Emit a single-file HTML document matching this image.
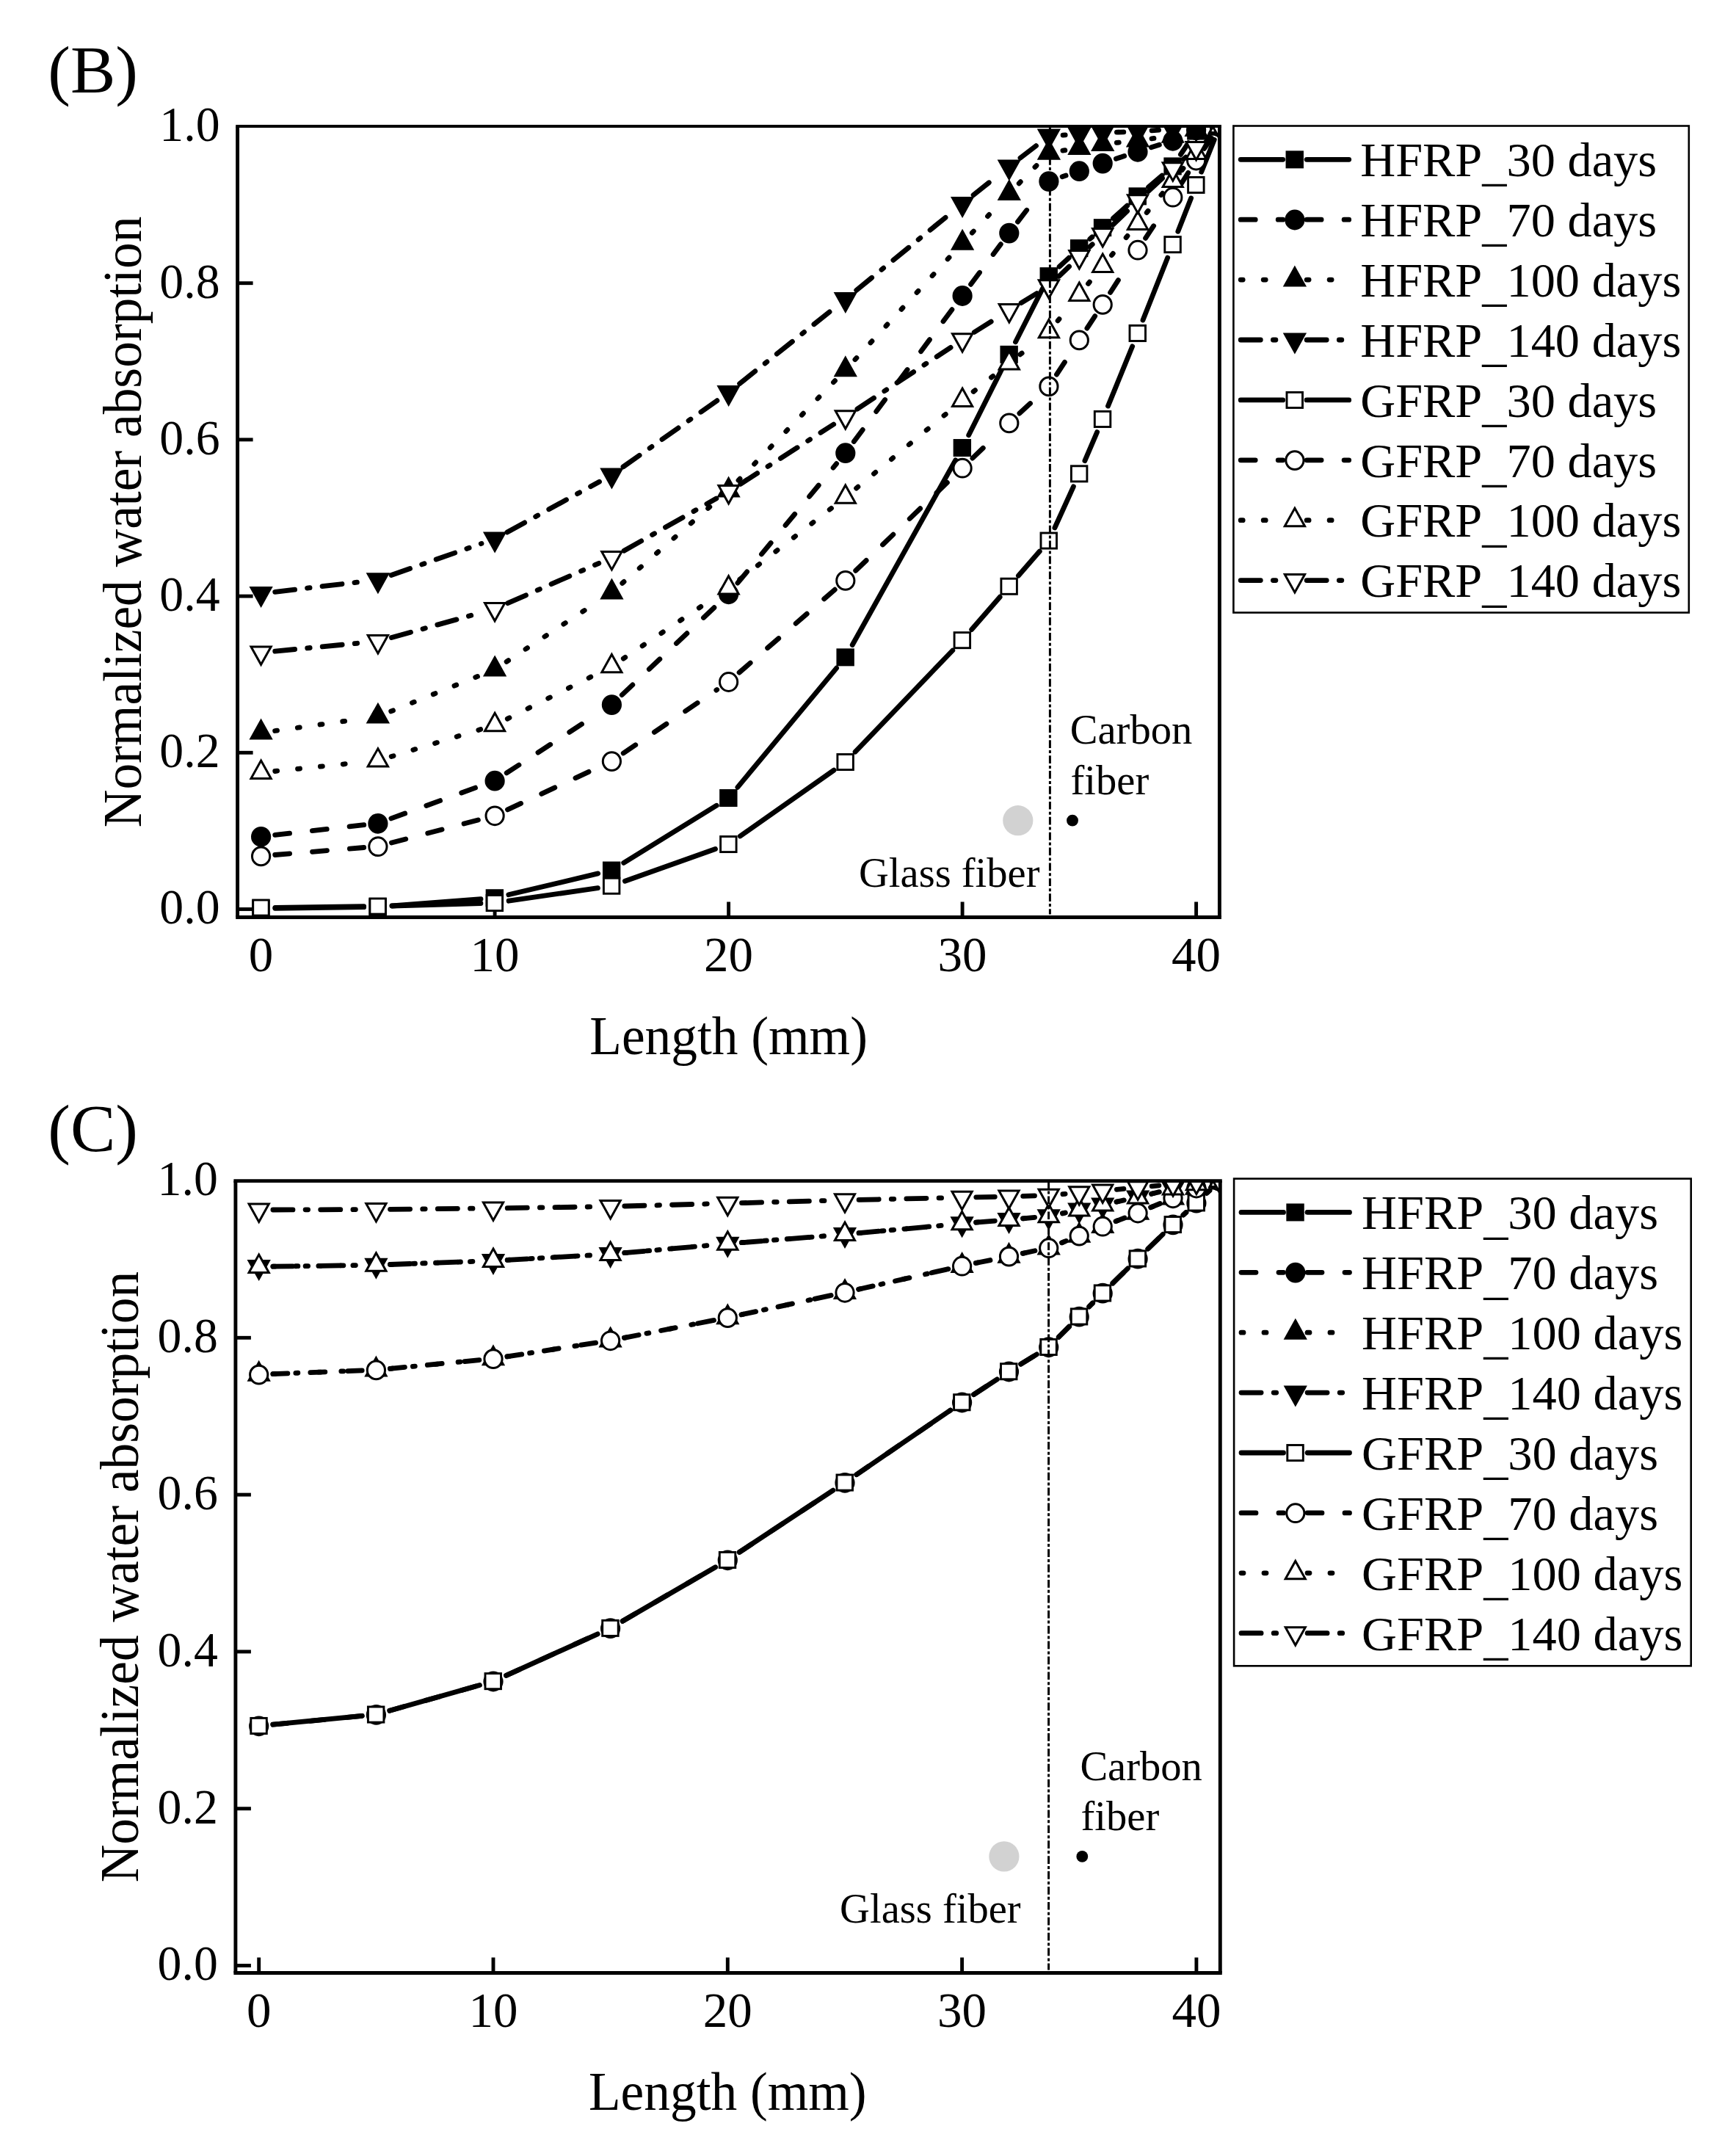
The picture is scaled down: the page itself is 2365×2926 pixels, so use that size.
<!DOCTYPE html>
<html lang="en">
<head>
<meta charset="utf-8">
<title>Normalized water absorption vs length</title>
<style>
html,body{margin:0;padding:0;background:#fff;}
body{width:2365px;height:2926px;overflow:hidden;}
svg{display:block;font-family:'Liberation Serif', 'Times New Roman', serif;}
text{fill:#000;}
</style>
</head>
<body>
<svg width="2365" height="2926" viewBox="0 0 2365 2926">
<rect width="2365" height="2926" fill="#fff"/>
<clipPath id="clipB"><rect x="323.6" y="172.3" width="1337.8" height="1077.2"/></clipPath>
<g stroke="#000" stroke-width="4.9" fill="none">
<line x1="323.6" y1="1238.5" x2="344.6" y2="1238.5"/>
<line x1="323.6" y1="1025.3" x2="344.6" y2="1025.3"/>
<line x1="323.6" y1="812.1" x2="344.6" y2="812.1"/>
<line x1="323.6" y1="598.9" x2="344.6" y2="598.9"/>
<line x1="323.6" y1="385.7" x2="344.6" y2="385.7"/>
<line x1="355.6" y1="1249.5" x2="355.6" y2="1228.5"/>
<line x1="674.1" y1="1249.5" x2="674.1" y2="1228.5"/>
<line x1="992.6" y1="1249.5" x2="992.6" y2="1228.5"/>
<line x1="1311.1" y1="1249.5" x2="1311.1" y2="1228.5"/>
<line x1="1629.6" y1="1249.5" x2="1629.6" y2="1228.5"/>
</g>
<g clip-path="url(#clipB)">
<g stroke="#000" stroke-width="6.8" stroke-linecap="round" fill="none">
<line x1="374.8" y1="1237.3" x2="495.7" y2="1235.7"/>
<line x1="534" y1="1234" x2="655" y2="1224.7"/>
<line x1="692.8" y1="1218.8" x2="814.7" y2="1189.9"/>
<line x1="849.7" y1="1175.4" x2="976.3" y2="1097.2"/>
<line x1="1004.9" y1="1072.3" x2="1139.6" y2="910.1"/>
<line x1="1161.2" y1="878.5" x2="1301.7" y2="626.8"/>
<line x1="1319.7" y1="592.8" x2="1366.2" y2="500.1"/>
<line x1="1383.5" y1="465.8" x2="1420.3" y2="393.3"/>
<line x1="1443.1" y1="363.2" x2="1456.2" y2="351.2"/>
<line x1="1484.8" y1="325.5" x2="1487.8" y2="322.9"/>
<line x1="1516.5" y1="297.4" x2="1535.7" y2="280.1"/>
<line x1="1564.6" y1="254.8" x2="1583.1" y2="239"/>
<line x1="1608.4" y1="210.5" x2="1619" y2="194.6"/>
</g>
<g stroke-linejoin="miter">
<rect x="344.7" y="1227" width="21.5" height="21.1" fill="#000" stroke="#000" stroke-width="2.9"/>
<rect x="503.9" y="1225" width="21.5" height="21.1" fill="#000" stroke="#000" stroke-width="2.9"/>
<rect x="663.1" y="1212.7" width="21.5" height="21.1" fill="#000" stroke="#000" stroke-width="2.9"/>
<rect x="822.4" y="1175" width="21.5" height="21.1" fill="#000" stroke="#000" stroke-width="2.9"/>
<rect x="981.6" y="1076.5" width="21.5" height="21.1" fill="#000" stroke="#000" stroke-width="2.9"/>
<rect x="1140.9" y="884.8" width="21.5" height="21.1" fill="#000" stroke="#000" stroke-width="2.9"/>
<rect x="1300.1" y="599.5" width="21.5" height="21.1" fill="#000" stroke="#000" stroke-width="2.9"/>
<rect x="1363.9" y="472.3" width="21.5" height="21.1" fill="#000" stroke="#000" stroke-width="2.9"/>
<rect x="1418" y="365.6" width="21.5" height="21.1" fill="#000" stroke="#000" stroke-width="2.9"/>
<rect x="1459.4" y="327.6" width="21.5" height="21.1" fill="#000" stroke="#000" stroke-width="2.9"/>
<rect x="1491.3" y="299.6" width="21.5" height="21.1" fill="#000" stroke="#000" stroke-width="2.9"/>
<rect x="1539" y="256.8" width="21.5" height="21.1" fill="#000" stroke="#000" stroke-width="2.9"/>
<rect x="1586.8" y="215.9" width="21.5" height="21.1" fill="#000" stroke="#000" stroke-width="2.9"/>
<rect x="1618.6" y="168" width="21.5" height="21.1" fill="#000" stroke="#000" stroke-width="2.9"/>
<rect x="1650.5" y="161.9" width="21.5" height="21.1" fill="#000" stroke="#000" stroke-width="2.9"/>
</g>
<g stroke="#000" stroke-width="6.8" stroke-linecap="round" fill="none">
<line x1="374.7" y1="1137.3" x2="495.8" y2="1123.7" stroke-dasharray="20 31"/>
<line x1="532.9" y1="1114.9" x2="656.1" y2="1070" stroke-dasharray="20 31"/>
<line x1="690.2" y1="1052.9" x2="817.3" y2="970.3" stroke-dasharray="20 31"/>
<line x1="847.3" y1="946.6" x2="978.7" y2="822.2" stroke-dasharray="20 31"/>
<line x1="1004.9" y1="794.2" x2="1139.6" y2="631.7" stroke-dasharray="20 31"/>
<line x1="1163.3" y1="601.5" x2="1299.6" y2="418.1" stroke-dasharray="20 31"/>
<line x1="1322.6" y1="387.3" x2="1363.3" y2="332.7" stroke-dasharray="20 31"/>
<line x1="1386.5" y1="302.1" x2="1417.3" y2="262" stroke-dasharray="20 31"/>
<line x1="1447.1" y1="240.7" x2="1452.1" y2="239" stroke-dasharray="20 31"/>
<line x1="1520.4" y1="216.3" x2="1531.7" y2="212.5" stroke-dasharray="20 31"/>
<line x1="1568.3" y1="200.7" x2="1579.4" y2="197.3" stroke-dasharray="20 31"/>
</g>
<g stroke-linejoin="miter">
<ellipse cx="355.6" cy="1139.8" rx="12.1" ry="12.4" fill="#000" stroke="#000" stroke-width="3.0"/>
<ellipse cx="514.9" cy="1121.8" rx="12.1" ry="12.4" fill="#000" stroke="#000" stroke-width="3.0"/>
<ellipse cx="674.1" cy="1063.7" rx="12.1" ry="12.4" fill="#000" stroke="#000" stroke-width="3.0"/>
<ellipse cx="833.4" cy="960.1" rx="12.1" ry="12.4" fill="#000" stroke="#000" stroke-width="3.0"/>
<ellipse cx="992.6" cy="809.3" rx="12.1" ry="12.4" fill="#000" stroke="#000" stroke-width="3.0"/>
<ellipse cx="1151.8" cy="617.2" rx="12.1" ry="12.4" fill="#000" stroke="#000" stroke-width="3.0"/>
<ellipse cx="1311.1" cy="403" rx="12.1" ry="12.4" fill="#000" stroke="#000" stroke-width="3.0"/>
<ellipse cx="1374.8" cy="317.6" rx="12.1" ry="12.4" fill="#000" stroke="#000" stroke-width="3.0"/>
<ellipse cx="1428.9" cy="247.1" rx="12.1" ry="12.4" fill="#000" stroke="#000" stroke-width="3.0"/>
<ellipse cx="1470.3" cy="233.2" rx="12.1" ry="12.4" fill="#000" stroke="#000" stroke-width="3.0"/>
<ellipse cx="1502.2" cy="222.6" rx="12.1" ry="12.4" fill="#000" stroke="#000" stroke-width="3.0"/>
<ellipse cx="1550" cy="206.8" rx="12.1" ry="12.4" fill="#000" stroke="#000" stroke-width="3.0"/>
<ellipse cx="1597.8" cy="191.8" rx="12.1" ry="12.4" fill="#000" stroke="#000" stroke-width="3.0"/>
<ellipse cx="1629.6" cy="177.3" rx="12.1" ry="12.4" fill="#000" stroke="#000" stroke-width="3.0"/>
<ellipse cx="1661.5" cy="172.8" rx="12.1" ry="12.4" fill="#000" stroke="#000" stroke-width="3.0"/>
</g>
<g stroke="#000" stroke-width="6.8" stroke-linecap="round" fill="none">
<line x1="374.6" y1="995.5" x2="495.8" y2="978.7" stroke-dasharray="3 28"/>
<line x1="532.7" y1="968.9" x2="656.3" y2="919.1" stroke-dasharray="3 28"/>
<line x1="690.1" y1="901.3" x2="817.3" y2="817.6" stroke-dasharray="3 28"/>
<line x1="847.8" y1="794.4" x2="978.1" y2="680.7" stroke-dasharray="3 28"/>
<line x1="1006" y1="654.3" x2="1138.5" y2="517.6" stroke-dasharray="3 28"/>
<line x1="1164.9" y1="489.7" x2="1298.1" y2="345.3" stroke-dasharray="3 28"/>
<line x1="1324.3" y1="317.2" x2="1361.6" y2="277.5" stroke-dasharray="3 28"/>
<line x1="1388.2" y1="249.8" x2="1415.5" y2="222" stroke-dasharray="3 28"/>
<line x1="1447.9" y1="205.1" x2="1451.4" y2="204.6" stroke-dasharray="3 28"/>
<line x1="1521.3" y1="194.4" x2="1530.9" y2="193.3" stroke-dasharray="3 28"/>
<line x1="1569" y1="188.8" x2="1578.7" y2="187.6" stroke-dasharray="3 28"/>
</g>
<g stroke-linejoin="miter">
<polygon points="355.6,981.7 369.2,1006.1 342,1006.1" fill="#000" stroke="#000" stroke-width="3.0"/>
<polygon points="514.9,959.7 528.5,984.1 501.2,984.1" fill="#000" stroke="#000" stroke-width="3.0"/>
<polygon points="674.1,895.5 687.7,919.9 660.5,919.9" fill="#000" stroke="#000" stroke-width="3.0"/>
<polygon points="833.4,790.6 847,815 819.8,815" fill="#000" stroke="#000" stroke-width="3.0"/>
<polygon points="992.6,651.7 1006.2,676.1 979,676.1" fill="#000" stroke="#000" stroke-width="3.0"/>
<polygon points="1151.8,487.4 1165.4,511.8 1138.2,511.8" fill="#000" stroke="#000" stroke-width="3.0"/>
<polygon points="1311.1,314.8 1324.7,339.2 1297.5,339.2" fill="#000" stroke="#000" stroke-width="3.0"/>
<polygon points="1374.8,247.1 1388.4,271.5 1361.2,271.5" fill="#000" stroke="#000" stroke-width="3.0"/>
<polygon points="1428.9,191.9 1442.5,216.3 1415.3,216.3" fill="#000" stroke="#000" stroke-width="3.0"/>
<polygon points="1470.3,185 1483.9,209.4 1456.8,209.4" fill="#000" stroke="#000" stroke-width="3.0"/>
<polygon points="1502.2,180.2 1515.8,204.6 1488.6,204.6" fill="#000" stroke="#000" stroke-width="3.0"/>
<polygon points="1550,174.7 1563.6,199.1 1536.4,199.1" fill="#000" stroke="#000" stroke-width="3.0"/>
<polygon points="1597.8,168.9 1611.3,193.3 1584.2,193.3" fill="#000" stroke="#000" stroke-width="3.0"/>
<polygon points="1629.6,160.1 1643.2,184.5 1616,184.5" fill="#000" stroke="#000" stroke-width="3.0"/>
<polygon points="1661.5,156.1 1675.1,180.5 1647.9,180.5" fill="#000" stroke="#000" stroke-width="3.0"/>
</g>
<g stroke="#000" stroke-width="6.8" stroke-linecap="round" fill="none">
<line x1="374.7" y1="806.3" x2="495.8" y2="792" stroke-dasharray="27.1 17.1 3.5 17.1"/>
<line x1="533" y1="783.5" x2="656" y2="740.4" stroke-dasharray="27.1 17.1 3.5 17.1"/>
<line x1="690.9" y1="724.9" x2="816.5" y2="656.2" stroke-dasharray="27.1 17.1 3.5 17.1"/>
<line x1="849" y1="635.9" x2="976.9" y2="545.7" stroke-dasharray="27.1 17.1 3.5 17.1"/>
<line x1="1007.6" y1="522.6" x2="1136.8" y2="419.5" stroke-dasharray="27.1 17.1 3.5 17.1"/>
<line x1="1166.7" y1="395.4" x2="1296.2" y2="289.6" stroke-dasharray="27.1 17.1 3.5 17.1"/>
<line x1="1326.1" y1="265.6" x2="1359.8" y2="238.8" stroke-dasharray="27.1 17.1 3.5 17.1"/>
<line x1="1390" y1="215.1" x2="1413.8" y2="196.8" stroke-dasharray="27.1 17.1 3.5 17.1"/>
<line x1="1448.1" y1="184.1" x2="1451.2" y2="183.9" stroke-dasharray="27.1 17.1 3.5 17.1"/>
<line x1="1521.4" y1="180.2" x2="1530.8" y2="179.8" stroke-dasharray="27.1 17.1 3.5 17.1"/>
<line x1="1569.1" y1="177.8" x2="1578.6" y2="177.2" stroke-dasharray="27.1 17.1 3.5 17.1"/>
</g>
<g stroke-linejoin="miter">
<polygon points="355.6,824.9 369.2,800.5 342,800.5" fill="#000" stroke="#000" stroke-width="3.0"/>
<polygon points="514.9,806.2 528.5,781.8 501.2,781.8" fill="#000" stroke="#000" stroke-width="3.0"/>
<polygon points="674.1,750.5 687.7,726.1 660.5,726.1" fill="#000" stroke="#000" stroke-width="3.0"/>
<polygon points="833.4,663.4 847,639 819.8,639" fill="#000" stroke="#000" stroke-width="3.0"/>
<polygon points="992.6,551 1006.2,526.6 979,526.6" fill="#000" stroke="#000" stroke-width="3.0"/>
<polygon points="1151.8,423.9 1165.4,399.5 1138.2,399.5" fill="#000" stroke="#000" stroke-width="3.0"/>
<polygon points="1311.1,293.9 1324.7,269.5 1297.5,269.5" fill="#000" stroke="#000" stroke-width="3.0"/>
<polygon points="1374.8,243.3 1388.4,218.9 1361.2,218.9" fill="#000" stroke="#000" stroke-width="3.0"/>
<polygon points="1428.9,201.4 1442.5,177 1415.3,177" fill="#000" stroke="#000" stroke-width="3.0"/>
<polygon points="1470.3,199.4 1483.9,175 1456.8,175" fill="#000" stroke="#000" stroke-width="3.0"/>
<polygon points="1502.2,197.4 1515.8,173 1488.6,173" fill="#000" stroke="#000" stroke-width="3.0"/>
<polygon points="1550,195.4 1563.6,171 1536.4,171" fill="#000" stroke="#000" stroke-width="3.0"/>
<polygon points="1597.8,192.4 1611.3,168 1584.2,168" fill="#000" stroke="#000" stroke-width="3.0"/>
<polygon points="1629.6,190.4 1643.2,166 1616,166" fill="#000" stroke="#000" stroke-width="3.0"/>
<polygon points="1661.5,188.9 1675.1,164.5 1647.9,164.5" fill="#000" stroke="#000" stroke-width="3.0"/>
</g>
<g stroke="#000" stroke-width="6.8" stroke-linecap="round" fill="none">
<line x1="374.8" y1="1236.3" x2="495.7" y2="1234.7"/>
<line x1="534" y1="1234" x2="654.9" y2="1230.5"/>
<line x1="693.1" y1="1227.2" x2="814.4" y2="1209.6"/>
<line x1="851.4" y1="1200.3" x2="974.5" y2="1156.5"/>
<line x1="1008.3" y1="1139" x2="1136.1" y2="1049.1"/>
<line x1="1165.1" y1="1024.2" x2="1297.8" y2="886"/>
<line x1="1323.7" y1="857.6" x2="1362.2" y2="813.2"/>
<line x1="1387.4" y1="784.2" x2="1416.3" y2="751"/>
<line x1="1436.9" y1="719" x2="1462.4" y2="662.8"/>
<line x1="1477.9" y1="627.6" x2="1494.6" y2="588.6"/>
<line x1="1509.5" y1="553.1" x2="1542.7" y2="471.8"/>
<line x1="1557" y1="436.1" x2="1590.7" y2="351.1"/>
<line x1="1604.8" y1="315.3" x2="1622.6" y2="269.9"/>
<line x1="1636.7" y1="234.2" x2="1654.3" y2="190.3"/>
</g>
<g stroke-linejoin="miter">
<rect x="344.7" y="1226" width="21.5" height="21.1" fill="#fff" stroke="#000" stroke-width="2.9"/>
<rect x="503.9" y="1224" width="21.5" height="21.1" fill="#fff" stroke="#000" stroke-width="2.9"/>
<rect x="663.1" y="1219.5" width="21.5" height="21.1" fill="#fff" stroke="#000" stroke-width="2.9"/>
<rect x="822.4" y="1196.2" width="21.5" height="21.1" fill="#fff" stroke="#000" stroke-width="2.9"/>
<rect x="981.6" y="1139.5" width="21.5" height="21.1" fill="#fff" stroke="#000" stroke-width="2.9"/>
<rect x="1140.9" y="1027.5" width="21.5" height="21.1" fill="#fff" stroke="#000" stroke-width="2.9"/>
<rect x="1300.1" y="861.6" width="21.5" height="21.1" fill="#fff" stroke="#000" stroke-width="2.9"/>
<rect x="1363.9" y="788.2" width="21.5" height="21.1" fill="#fff" stroke="#000" stroke-width="2.9"/>
<rect x="1418" y="726" width="21.5" height="21.1" fill="#fff" stroke="#000" stroke-width="2.9"/>
<rect x="1459.4" y="634.8" width="21.5" height="21.1" fill="#fff" stroke="#000" stroke-width="2.9"/>
<rect x="1491.3" y="560.4" width="21.5" height="21.1" fill="#fff" stroke="#000" stroke-width="2.9"/>
<rect x="1539" y="443.4" width="21.5" height="21.1" fill="#fff" stroke="#000" stroke-width="2.9"/>
<rect x="1586.8" y="322.6" width="21.5" height="21.1" fill="#fff" stroke="#000" stroke-width="2.9"/>
<rect x="1618.6" y="241.4" width="21.5" height="21.1" fill="#fff" stroke="#000" stroke-width="2.9"/>
<rect x="1650.5" y="161.9" width="21.5" height="21.1" fill="#fff" stroke="#000" stroke-width="2.9"/>
</g>
<g stroke="#000" stroke-width="6.8" stroke-linecap="round" fill="none">
<line x1="374.7" y1="1164.5" x2="495.7" y2="1154.5" stroke-dasharray="20 31"/>
<line x1="533.4" y1="1148" x2="655.5" y2="1115.9" stroke-dasharray="20 31"/>
<line x1="691.5" y1="1102.9" x2="815.9" y2="1044.9" stroke-dasharray="20 31"/>
<line x1="849.2" y1="1026" x2="976.7" y2="939.5" stroke-dasharray="20 31"/>
<line x1="1007.1" y1="916.1" x2="1137.3" y2="803.2" stroke-dasharray="20 31"/>
<line x1="1165.7" y1="777.3" x2="1297.3" y2="650.7" stroke-dasharray="20 31"/>
<line x1="1324.9" y1="624.1" x2="1361" y2="589.4" stroke-dasharray="20 31"/>
<line x1="1388.9" y1="563.1" x2="1414.8" y2="539.1" stroke-dasharray="20 31"/>
<line x1="1439.5" y1="510.1" x2="1459.8" y2="479.1" stroke-dasharray="20 31"/>
<line x1="1480.9" y1="447.1" x2="1491.7" y2="430.6" stroke-dasharray="20 31"/>
<line x1="1512.6" y1="398.5" x2="1539.6" y2="356.5" stroke-dasharray="20 31"/>
<line x1="1560.6" y1="324.4" x2="1587.1" y2="284.4" stroke-dasharray="20 31"/>
<line x1="1608" y1="252.2" x2="1619.3" y2="234.4" stroke-dasharray="20 31"/>
<line x1="1640.6" y1="202.4" x2="1650.5" y2="188.3" stroke-dasharray="20 31"/>
</g>
<g stroke-linejoin="miter">
<ellipse cx="355.6" cy="1166.4" rx="12.1" ry="12.4" fill="#fff" stroke="#000" stroke-width="3.0"/>
<ellipse cx="514.9" cy="1153.2" rx="12.1" ry="12.4" fill="#fff" stroke="#000" stroke-width="3.0"/>
<ellipse cx="674.1" cy="1111.3" rx="12.1" ry="12.4" fill="#fff" stroke="#000" stroke-width="3.0"/>
<ellipse cx="833.4" cy="1037.1" rx="12.1" ry="12.4" fill="#fff" stroke="#000" stroke-width="3.0"/>
<ellipse cx="992.6" cy="929" rx="12.1" ry="12.4" fill="#fff" stroke="#000" stroke-width="3.0"/>
<ellipse cx="1151.8" cy="790.9" rx="12.1" ry="12.4" fill="#fff" stroke="#000" stroke-width="3.0"/>
<ellipse cx="1311.1" cy="637.7" rx="12.1" ry="12.4" fill="#fff" stroke="#000" stroke-width="3.0"/>
<ellipse cx="1374.8" cy="576.4" rx="12.1" ry="12.4" fill="#fff" stroke="#000" stroke-width="3.0"/>
<ellipse cx="1428.9" cy="526.4" rx="12.1" ry="12.4" fill="#fff" stroke="#000" stroke-width="3.0"/>
<ellipse cx="1470.3" cy="463.4" rx="12.1" ry="12.4" fill="#fff" stroke="#000" stroke-width="3.0"/>
<ellipse cx="1502.2" cy="414.9" rx="12.1" ry="12.4" fill="#fff" stroke="#000" stroke-width="3.0"/>
<ellipse cx="1550" cy="340.7" rx="12.1" ry="12.4" fill="#fff" stroke="#000" stroke-width="3.0"/>
<ellipse cx="1597.8" cy="268.7" rx="12.1" ry="12.4" fill="#fff" stroke="#000" stroke-width="3.0"/>
<ellipse cx="1629.6" cy="218.5" rx="12.1" ry="12.4" fill="#fff" stroke="#000" stroke-width="3.0"/>
<ellipse cx="1661.5" cy="172.8" rx="12.1" ry="12.4" fill="#fff" stroke="#000" stroke-width="3.0"/>
</g>
<g stroke="#000" stroke-width="6.8" stroke-linecap="round" fill="none">
<line x1="374.7" y1="1050.5" x2="495.8" y2="1038.1" stroke-dasharray="3 28"/>
<line x1="533.2" y1="1030.5" x2="655.7" y2="993.3" stroke-dasharray="3 28"/>
<line x1="691.3" y1="979.1" x2="816.2" y2="916.4" stroke-dasharray="3 28"/>
<line x1="849.3" y1="897.1" x2="976.6" y2="811.8" stroke-dasharray="3 28"/>
<line x1="1007.8" y1="789.3" x2="1136.7" y2="689.1" stroke-dasharray="3 28"/>
<line x1="1166.6" y1="665.1" x2="1296.3" y2="557.6" stroke-dasharray="3 28"/>
<line x1="1326.1" y1="533.5" x2="1359.8" y2="506.8" stroke-dasharray="3 28"/>
<line x1="1389.8" y1="482.9" x2="1413.9" y2="463.7" stroke-dasharray="3 28"/>
<line x1="1441.1" y1="436.9" x2="1458.1" y2="416.2" stroke-dasharray="3 28"/>
<line x1="1482.5" y1="386.5" x2="1490" y2="377.4" stroke-dasharray="3 28"/>
<line x1="1514.4" y1="347.7" x2="1537.8" y2="319.2" stroke-dasharray="3 28"/>
<line x1="1562.2" y1="289.6" x2="1585.5" y2="261.2" stroke-dasharray="3 28"/>
<line x1="1610.1" y1="231.7" x2="1617.2" y2="223.2" stroke-dasharray="3 28"/>
<line x1="1642.3" y1="194.1" x2="1648.7" y2="186.9" stroke-dasharray="3 28"/>
</g>
<g stroke-linejoin="miter">
<polygon points="355.6,1036.1 369.2,1060.5 342,1060.5" fill="#fff" stroke="#000" stroke-width="3.0"/>
<polygon points="514.9,1019.7 528.5,1044.1 501.2,1044.1" fill="#fff" stroke="#000" stroke-width="3.0"/>
<polygon points="674.1,971.3 687.7,995.7 660.5,995.7" fill="#fff" stroke="#000" stroke-width="3.0"/>
<polygon points="833.4,891.4 847,915.8 819.8,915.8" fill="#fff" stroke="#000" stroke-width="3.0"/>
<polygon points="992.6,784.7 1006.2,809.1 979,809.1" fill="#fff" stroke="#000" stroke-width="3.0"/>
<polygon points="1151.8,660.9 1165.4,685.3 1138.2,685.3" fill="#fff" stroke="#000" stroke-width="3.0"/>
<polygon points="1311.1,529 1324.7,553.4 1297.5,553.4" fill="#fff" stroke="#000" stroke-width="3.0"/>
<polygon points="1374.8,478.5 1388.4,502.9 1361.2,502.9" fill="#fff" stroke="#000" stroke-width="3.0"/>
<polygon points="1428.9,435.3 1442.5,459.7 1415.3,459.7" fill="#fff" stroke="#000" stroke-width="3.0"/>
<polygon points="1470.3,385 1483.9,409.4 1456.8,409.4" fill="#fff" stroke="#000" stroke-width="3.0"/>
<polygon points="1502.2,346.1 1515.8,370.5 1488.6,370.5" fill="#fff" stroke="#000" stroke-width="3.0"/>
<polygon points="1550,288 1563.6,312.4 1536.4,312.4" fill="#fff" stroke="#000" stroke-width="3.0"/>
<polygon points="1597.8,230 1611.3,254.4 1584.2,254.4" fill="#fff" stroke="#000" stroke-width="3.0"/>
<polygon points="1629.6,192.1 1643.2,216.5 1616,216.5" fill="#fff" stroke="#000" stroke-width="3.0"/>
<polygon points="1661.5,156.1 1675.1,180.5 1647.9,180.5" fill="#fff" stroke="#000" stroke-width="3.0"/>
</g>
<g stroke="#000" stroke-width="6.8" stroke-linecap="round" fill="none">
<line x1="374.7" y1="887.1" x2="495.7" y2="875.4" stroke-dasharray="27.1 17.1 3.5 17.1"/>
<line x1="533.4" y1="868.5" x2="655.6" y2="834.5" stroke-dasharray="27.1 17.1 3.5 17.1"/>
<line x1="691.7" y1="821.7" x2="815.8" y2="767.3" stroke-dasharray="27.1 17.1 3.5 17.1"/>
<line x1="850.1" y1="750.2" x2="975.9" y2="679" stroke-dasharray="27.1 17.1 3.5 17.1"/>
<line x1="1008.8" y1="659.3" x2="1135.7" y2="578" stroke-dasharray="27.1 17.1 3.5 17.1"/>
<line x1="1167.9" y1="557.1" x2="1295.1" y2="473.3" stroke-dasharray="27.1 17.1 3.5 17.1"/>
<line x1="1327.3" y1="452.5" x2="1358.6" y2="432.7" stroke-dasharray="27.1 17.1 3.5 17.1"/>
<line x1="1391.2" y1="412.6" x2="1412.5" y2="399.6" stroke-dasharray="27.1 17.1 3.5 17.1"/>
<line x1="1442.7" y1="376.3" x2="1456.6" y2="363" stroke-dasharray="27.1 17.1 3.5 17.1"/>
<line x1="1484.3" y1="336.4" x2="1488.2" y2="332.8" stroke-dasharray="27.1 17.1 3.5 17.1"/>
<line x1="1516.1" y1="306.3" x2="1536.1" y2="287.1" stroke-dasharray="27.1 17.1 3.5 17.1"/>
<line x1="1564.1" y1="260.8" x2="1583.6" y2="242.8" stroke-dasharray="27.1 17.1 3.5 17.1"/>
<line x1="1612.1" y1="217" x2="1615.3" y2="214.2" stroke-dasharray="27.1 17.1 3.5 17.1"/>
<line x1="1643.8" y1="188.5" x2="1647.2" y2="185.4" stroke-dasharray="27.1 17.1 3.5 17.1"/>
</g>
<g stroke-linejoin="miter">
<polygon points="355.6,905.3 369.2,880.9 342,880.9" fill="#fff" stroke="#000" stroke-width="3.0"/>
<polygon points="514.9,890 528.5,865.6 501.2,865.6" fill="#fff" stroke="#000" stroke-width="3.0"/>
<polygon points="674.1,845.8 687.7,821.4 660.5,821.4" fill="#fff" stroke="#000" stroke-width="3.0"/>
<polygon points="833.4,776 847,751.6 819.8,751.6" fill="#fff" stroke="#000" stroke-width="3.0"/>
<polygon points="992.6,686 1006.2,661.6 979,661.6" fill="#fff" stroke="#000" stroke-width="3.0"/>
<polygon points="1151.8,584.1 1165.4,559.7 1138.2,559.7" fill="#fff" stroke="#000" stroke-width="3.0"/>
<polygon points="1311.1,479.1 1324.7,454.7 1297.5,454.7" fill="#fff" stroke="#000" stroke-width="3.0"/>
<polygon points="1374.8,438.9 1388.4,414.5 1361.2,414.5" fill="#fff" stroke="#000" stroke-width="3.0"/>
<polygon points="1428.9,406.1 1442.5,381.7 1415.3,381.7" fill="#fff" stroke="#000" stroke-width="3.0"/>
<polygon points="1470.3,366 1483.9,341.6 1456.8,341.6" fill="#fff" stroke="#000" stroke-width="3.0"/>
<polygon points="1502.2,336 1515.8,311.6 1488.6,311.6" fill="#fff" stroke="#000" stroke-width="3.0"/>
<polygon points="1550,290.2 1563.6,265.8 1536.4,265.8" fill="#fff" stroke="#000" stroke-width="3.0"/>
<polygon points="1597.8,246.2 1611.3,221.8 1584.2,221.8" fill="#fff" stroke="#000" stroke-width="3.0"/>
<polygon points="1629.6,217.8 1643.2,193.4 1616,193.4" fill="#fff" stroke="#000" stroke-width="3.0"/>
<polygon points="1661.5,188.9 1675.1,164.5 1647.9,164.5" fill="#fff" stroke="#000" stroke-width="3.0"/>
</g>
<line x1="1430.4" y1="172.3" x2="1430.4" y2="1245.5" stroke="#000" stroke-width="3" stroke-dasharray="10.7 3.1 4 3.1" stroke-dashoffset="0"/>
</g>
<circle cx="1386.8" cy="1117.7" r="20.6" fill="#d2d2d2"/>
<circle cx="1461" cy="1117.7" r="7.9" fill="#000"/>
<g stroke="#000" fill="none" stroke-linecap="butt">
<line x1="321.2" y1="171.9" x2="1663.9" y2="171.9" stroke-width="4.0"/>
<line x1="321.2" y1="1249.5" x2="1663.9" y2="1249.5" stroke-width="4.9"/>
<line x1="323.6" y1="172.3" x2="323.6" y2="1249.5" stroke-width="4.9"/>
<line x1="1661.4" y1="172.3" x2="1661.4" y2="1249.5" stroke-width="4.9"/>
</g>
<text transform="translate(299.6 1258.3) scale(0.9750 1)" font-size="67.5" text-anchor="end">0.0</text>
<text transform="translate(299.6 1045.1) scale(0.9750 1)" font-size="67.5" text-anchor="end">0.2</text>
<text transform="translate(299.6 831.9) scale(0.9750 1)" font-size="67.5" text-anchor="end">0.4</text>
<text transform="translate(299.6 618.7) scale(0.9750 1)" font-size="67.5" text-anchor="end">0.6</text>
<text transform="translate(299.6 405.5) scale(0.9750 1)" font-size="67.5" text-anchor="end">0.8</text>
<text transform="translate(299.6 192.3) scale(0.9750 1)" font-size="67.5" text-anchor="end">1.0</text>
<text transform="translate(355.6 1323.3)" font-size="67" text-anchor="middle">0</text>
<text transform="translate(674.1 1323.3)" font-size="67" text-anchor="middle">10</text>
<text transform="translate(992.6 1323.3)" font-size="67" text-anchor="middle">20</text>
<text transform="translate(1311.1 1323.3)" font-size="67" text-anchor="middle">30</text>
<text transform="translate(1629.6 1323.3)" font-size="67" text-anchor="middle">40</text>
<text transform="translate(992.6 1435.8) scale(0.9780 1)" font-size="73" text-anchor="middle">Length (mm)</text>
<text transform="translate(192 710.9) rotate(-90) scale(0.9780 1)" font-size="73" text-anchor="middle">Normalized water absorption</text>
<text transform="translate(65.3 125.5)" font-size="92">(B)</text>
<text transform="translate(1457.8 1012.9) scale(1.0100 1)" font-size="56">Carbon</text>
<text transform="translate(1458.5 1082.3) scale(1.0100 1)" font-size="56">fiber</text>
<text transform="translate(1170 1208.1) scale(1.0100 1)" font-size="56">Glass fiber</text>
<rect x="1680.4" y="171.5" width="620.4" height="663" fill="#fff" stroke="#000" stroke-width="2.6"/>
<g stroke="#000" stroke-width="6.8" stroke-linecap="round" fill="none">
<line x1="1690.2" y1="217.3" x2="1747.7" y2="217.3"/>
<line x1="1780.1" y1="217.3" x2="1837.7" y2="217.3"/>
</g>
<rect x="1753" y="206.8" width="21.5" height="21.1" fill="#000" stroke="#000" stroke-width="2.9"/>
<text transform="translate(1853.2 240) scale(1.0060 1)" font-size="66">HFRP<tspan dy="6.2">_</tspan><tspan dy="-6.2">30 days</tspan></text>
<g stroke="#000" stroke-width="6.8" stroke-linecap="round" fill="none">
<line x1="1690.2" y1="299.2" x2="1747.7" y2="299.2" stroke-dasharray="20 31"/>
<line x1="1780.1" y1="299.2" x2="1837.7" y2="299.2" stroke-dasharray="20 31"/>
</g>
<ellipse cx="1763.9" cy="299.5" rx="12.1" ry="12.4" fill="#000" stroke="#000" stroke-width="3.0"/>
<text transform="translate(1853.2 321.9) scale(1.0060 1)" font-size="66">HFRP<tspan dy="6.2">_</tspan><tspan dy="-6.2">70 days</tspan></text>
<g stroke="#000" stroke-width="6.8" stroke-linecap="round" fill="none">
<line x1="1690.2" y1="381.1" x2="1747.7" y2="381.1" stroke-dasharray="3 28"/>
<line x1="1780.1" y1="381.1" x2="1837.7" y2="381.1" stroke-dasharray="3 28"/>
</g>
<polygon points="1763.9,364.7 1777.5,389.1 1750.3,389.1" fill="#000" stroke="#000" stroke-width="3.0"/>
<text transform="translate(1853.2 403.8) scale(1.0060 1)" font-size="66">HFRP<tspan dy="6.2">_</tspan><tspan dy="-6.2">100 days</tspan></text>
<g stroke="#000" stroke-width="6.8" stroke-linecap="round" fill="none">
<line x1="1690.2" y1="463" x2="1747.7" y2="463" stroke-dasharray="27.1 17.1 3.5 17.1"/>
<line x1="1780.1" y1="463" x2="1837.7" y2="463" stroke-dasharray="27.1 17.1 3.5 17.1"/>
</g>
<polygon points="1763.9,479.4 1777.5,455 1750.3,455" fill="#000" stroke="#000" stroke-width="3.0"/>
<text transform="translate(1853.2 485.7) scale(1.0060 1)" font-size="66">HFRP<tspan dy="6.2">_</tspan><tspan dy="-6.2">140 days</tspan></text>
<g stroke="#000" stroke-width="6.8" stroke-linecap="round" fill="none">
<line x1="1690.2" y1="544.9" x2="1747.7" y2="544.9"/>
<line x1="1780.1" y1="544.9" x2="1837.7" y2="544.9"/>
</g>
<rect x="1753" y="534.4" width="21.5" height="21.1" fill="#fff" stroke="#000" stroke-width="2.9"/>
<text transform="translate(1853.2 567.6) scale(1.0060 1)" font-size="66">GFRP<tspan dy="6.2">_</tspan><tspan dy="-6.2">30 days</tspan></text>
<g stroke="#000" stroke-width="6.8" stroke-linecap="round" fill="none">
<line x1="1690.2" y1="626.8" x2="1747.7" y2="626.8" stroke-dasharray="20 31"/>
<line x1="1780.1" y1="626.8" x2="1837.7" y2="626.8" stroke-dasharray="20 31"/>
</g>
<ellipse cx="1763.9" cy="627.1" rx="12.1" ry="12.4" fill="#fff" stroke="#000" stroke-width="3.0"/>
<text transform="translate(1853.2 649.5) scale(1.0060 1)" font-size="66">GFRP<tspan dy="6.2">_</tspan><tspan dy="-6.2">70 days</tspan></text>
<g stroke="#000" stroke-width="6.8" stroke-linecap="round" fill="none">
<line x1="1690.2" y1="708.7" x2="1747.7" y2="708.7" stroke-dasharray="3 28"/>
<line x1="1780.1" y1="708.7" x2="1837.7" y2="708.7" stroke-dasharray="3 28"/>
</g>
<polygon points="1763.9,692.3 1777.5,716.7 1750.3,716.7" fill="#fff" stroke="#000" stroke-width="3.0"/>
<text transform="translate(1853.2 731.4) scale(1.0060 1)" font-size="66">GFRP<tspan dy="6.2">_</tspan><tspan dy="-6.2">100 days</tspan></text>
<g stroke="#000" stroke-width="6.8" stroke-linecap="round" fill="none">
<line x1="1690.2" y1="790.6" x2="1747.7" y2="790.6" stroke-dasharray="27.1 17.1 3.5 17.1"/>
<line x1="1780.1" y1="790.6" x2="1837.7" y2="790.6" stroke-dasharray="27.1 17.1 3.5 17.1"/>
</g>
<polygon points="1763.9,807 1777.5,782.6 1750.3,782.6" fill="#fff" stroke="#000" stroke-width="3.0"/>
<text transform="translate(1853.2 813.3) scale(1.0060 1)" font-size="66">GFRP<tspan dy="6.2">_</tspan><tspan dy="-6.2">140 days</tspan></text>
<clipPath id="clipC"><rect x="320.9" y="1608.6" width="1341.4" height="1078.9"/></clipPath>
<g stroke="#000" stroke-width="4.9" fill="none">
<line x1="320.9" y1="2677.5" x2="341.9" y2="2677.5"/>
<line x1="320.9" y1="2463.7" x2="341.9" y2="2463.7"/>
<line x1="320.9" y1="2249.9" x2="341.9" y2="2249.9"/>
<line x1="320.9" y1="2036.1" x2="341.9" y2="2036.1"/>
<line x1="320.9" y1="1822.3" x2="341.9" y2="1822.3"/>
<line x1="352.7" y1="2687.5" x2="352.7" y2="2666.5"/>
<line x1="672" y1="2687.5" x2="672" y2="2666.5"/>
<line x1="991.3" y1="2687.5" x2="991.3" y2="2666.5"/>
<line x1="1310.6" y1="2687.5" x2="1310.6" y2="2666.5"/>
<line x1="1629.9" y1="2687.5" x2="1629.9" y2="2666.5"/>
</g>
<g clip-path="url(#clipC)">
<g stroke="#000" stroke-width="6.8" stroke-linecap="round" fill="none">
<line x1="371.8" y1="2349.2" x2="493.2" y2="2337.4" stroke-dasharray="20 31"/>
<line x1="530.8" y1="2330.3" x2="653.5" y2="2295.5" stroke-dasharray="20 31"/>
<line x1="689.5" y1="2282.3" x2="814.2" y2="2225.8" stroke-dasharray="20 31"/>
<line x1="848.2" y1="2208.2" x2="974.7" y2="2134.7" stroke-dasharray="20 31"/>
<line x1="1007.3" y1="2114.4" x2="1134.9" y2="2030.1" stroke-dasharray="20 31"/>
<line x1="1166.8" y1="2008.7" x2="1294.8" y2="1921" stroke-dasharray="20 31"/>
<line x1="1326.6" y1="1899.6" x2="1358.4" y2="1878.8" stroke-dasharray="20 31"/>
<line x1="1390.8" y1="1858.2" x2="1412.4" y2="1844.9" stroke-dasharray="20 31"/>
<line x1="1442.3" y1="1821.3" x2="1456.7" y2="1807" stroke-dasharray="20 31"/>
<line x1="1483.8" y1="1779.8" x2="1488.6" y2="1775" stroke-dasharray="20 31"/>
<line x1="1515.9" y1="1748" x2="1536.4" y2="1727.8" stroke-dasharray="20 31"/>
<line x1="1563.9" y1="1701.1" x2="1584.2" y2="1681.4" stroke-dasharray="20 31"/>
<line x1="1612" y1="1655" x2="1615.8" y2="1651.5" stroke-dasharray="20 31"/>
<line x1="1643.9" y1="1625.3" x2="1647.8" y2="1621.7" stroke-dasharray="20 31"/>
</g>
<g stroke-linejoin="miter">
<ellipse cx="352.7" cy="2351.3" rx="12.1" ry="12.4" fill="#000" stroke="#000" stroke-width="3.0"/>
<ellipse cx="512.4" cy="2335.9" rx="12.1" ry="12.4" fill="#000" stroke="#000" stroke-width="3.0"/>
<ellipse cx="672" cy="2290.5" rx="12.1" ry="12.4" fill="#000" stroke="#000" stroke-width="3.0"/>
<ellipse cx="831.6" cy="2218.2" rx="12.1" ry="12.4" fill="#000" stroke="#000" stroke-width="3.0"/>
<ellipse cx="991.3" cy="2125.3" rx="12.1" ry="12.4" fill="#000" stroke="#000" stroke-width="3.0"/>
<ellipse cx="1151" cy="2019.8" rx="12.1" ry="12.4" fill="#000" stroke="#000" stroke-width="3.0"/>
<ellipse cx="1310.6" cy="1910.5" rx="12.1" ry="12.4" fill="#000" stroke="#000" stroke-width="3.0"/>
<ellipse cx="1374.5" cy="1868.5" rx="12.1" ry="12.4" fill="#000" stroke="#000" stroke-width="3.0"/>
<ellipse cx="1428.7" cy="1835.2" rx="12.1" ry="12.4" fill="#000" stroke="#000" stroke-width="3.0"/>
<ellipse cx="1470.2" cy="1793.7" rx="12.1" ry="12.4" fill="#000" stroke="#000" stroke-width="3.0"/>
<ellipse cx="1502.2" cy="1761.7" rx="12.1" ry="12.4" fill="#000" stroke="#000" stroke-width="3.0"/>
<ellipse cx="1550.1" cy="1714.7" rx="12.1" ry="12.4" fill="#000" stroke="#000" stroke-width="3.0"/>
<ellipse cx="1598" cy="1668.4" rx="12.1" ry="12.4" fill="#000" stroke="#000" stroke-width="3.0"/>
<ellipse cx="1629.9" cy="1638.7" rx="12.1" ry="12.4" fill="#000" stroke="#000" stroke-width="3.0"/>
<ellipse cx="1661.8" cy="1608.9" rx="12.1" ry="12.4" fill="#000" stroke="#000" stroke-width="3.0"/>
</g>
<g stroke="#000" stroke-width="6.8" stroke-linecap="round" fill="none">
<line x1="371.9" y1="1871.6" x2="493.2" y2="1866.8" stroke-dasharray="3 28"/>
<line x1="531.5" y1="1864.3" x2="652.9" y2="1852.6" stroke-dasharray="3 28"/>
<line x1="691" y1="1847.9" x2="812.7" y2="1828.9" stroke-dasharray="3 28"/>
<line x1="850.5" y1="1822.3" x2="972.5" y2="1798.5" stroke-dasharray="3 28"/>
<line x1="1010.1" y1="1790.8" x2="1132.2" y2="1764.5" stroke-dasharray="3 28"/>
<line x1="1169.7" y1="1756.3" x2="1291.9" y2="1728.6" stroke-dasharray="3 28"/>
<line x1="1329.4" y1="1720.5" x2="1355.7" y2="1715.2" stroke-dasharray="3 28"/>
<line x1="1393.3" y1="1707.4" x2="1410" y2="1703.8" stroke-dasharray="3 28"/>
<line x1="1446.6" y1="1692.8" x2="1452.4" y2="1690.4" stroke-dasharray="3 28"/>
<line x1="1520.1" y1="1663.6" x2="1532.1" y2="1659" stroke-dasharray="3 28"/>
<line x1="1567.8" y1="1644.7" x2="1580.3" y2="1639.5" stroke-dasharray="3 28"/>
</g>
<g stroke-linejoin="miter">
<polygon points="352.7,1855.9 366.3,1880.3 339.1,1880.3" fill="#000" stroke="#000" stroke-width="3.0"/>
<polygon points="512.4,1849.7 526,1874.1 498.8,1874.1" fill="#000" stroke="#000" stroke-width="3.0"/>
<polygon points="672,1834.4 685.6,1858.8 658.4,1858.8" fill="#000" stroke="#000" stroke-width="3.0"/>
<polygon points="831.6,1809.6 845.2,1834 818,1834" fill="#000" stroke="#000" stroke-width="3.0"/>
<polygon points="991.3,1778.4 1004.9,1802.8 977.7,1802.8" fill="#000" stroke="#000" stroke-width="3.0"/>
<polygon points="1151,1744.1 1164.5,1768.5 1137.4,1768.5" fill="#000" stroke="#000" stroke-width="3.0"/>
<polygon points="1310.6,1708 1324.2,1732.4 1297,1732.4" fill="#000" stroke="#000" stroke-width="3.0"/>
<polygon points="1374.5,1694.9 1388.1,1719.3 1360.9,1719.3" fill="#000" stroke="#000" stroke-width="3.0"/>
<polygon points="1428.7,1683.5 1442.3,1707.9 1415.1,1707.9" fill="#000" stroke="#000" stroke-width="3.0"/>
<polygon points="1470.2,1666.9 1483.8,1691.3 1456.7,1691.3" fill="#000" stroke="#000" stroke-width="3.0"/>
<polygon points="1502.2,1654 1515.8,1678.4 1488.6,1678.4" fill="#000" stroke="#000" stroke-width="3.0"/>
<polygon points="1550.1,1635.8 1563.7,1660.2 1536.5,1660.2" fill="#000" stroke="#000" stroke-width="3.0"/>
<polygon points="1598,1615.6 1611.6,1640 1584.4,1640" fill="#000" stroke="#000" stroke-width="3.0"/>
<polygon points="1629.9,1601.8 1643.5,1626.2 1616.3,1626.2" fill="#000" stroke="#000" stroke-width="3.0"/>
<polygon points="1661.8,1592.2 1675.4,1616.6 1648.2,1616.6" fill="#000" stroke="#000" stroke-width="3.0"/>
</g>
<g stroke="#000" stroke-width="6.8" stroke-linecap="round" fill="none">
<line x1="371.9" y1="1725.2" x2="493.2" y2="1723.5" stroke-dasharray="27.1 17.1 3.5 17.1"/>
<line x1="531.5" y1="1722.5" x2="652.8" y2="1718.1" stroke-dasharray="27.1 17.1 3.5 17.1"/>
<line x1="691.2" y1="1716.3" x2="812.5" y2="1709.5" stroke-dasharray="27.1 17.1 3.5 17.1"/>
<line x1="850.8" y1="1706.7" x2="972.2" y2="1695.9" stroke-dasharray="27.1 17.1 3.5 17.1"/>
<line x1="1010.4" y1="1692.7" x2="1131.8" y2="1683" stroke-dasharray="27.1 17.1 3.5 17.1"/>
<line x1="1170.1" y1="1679.7" x2="1291.5" y2="1668.6" stroke-dasharray="27.1 17.1 3.5 17.1"/>
<line x1="1329.7" y1="1665.2" x2="1355.3" y2="1663.1" stroke-dasharray="27.1 17.1 3.5 17.1"/>
<line x1="1393.6" y1="1659.8" x2="1409.6" y2="1658.4" stroke-dasharray="27.1 17.1 3.5 17.1"/>
<line x1="1447.5" y1="1652.8" x2="1451.4" y2="1652" stroke-dasharray="27.1 17.1 3.5 17.1"/>
<line x1="1521" y1="1637.1" x2="1531.3" y2="1634.9" stroke-dasharray="27.1 17.1 3.5 17.1"/>
<line x1="1568.7" y1="1626.3" x2="1579.4" y2="1623.6" stroke-dasharray="27.1 17.1 3.5 17.1"/>
</g>
<g stroke-linejoin="miter">
<polygon points="352.7,1741.9 366.3,1717.5 339.1,1717.5" fill="#000" stroke="#000" stroke-width="3.0"/>
<polygon points="512.4,1739.6 526,1715.2 498.8,1715.2" fill="#000" stroke="#000" stroke-width="3.0"/>
<polygon points="672,1733.8 685.6,1709.4 658.4,1709.4" fill="#000" stroke="#000" stroke-width="3.0"/>
<polygon points="831.6,1724.8 845.2,1700.4 818,1700.4" fill="#000" stroke="#000" stroke-width="3.0"/>
<polygon points="991.3,1710.6 1004.9,1686.2 977.7,1686.2" fill="#000" stroke="#000" stroke-width="3.0"/>
<polygon points="1151,1697.9 1164.5,1673.5 1137.4,1673.5" fill="#000" stroke="#000" stroke-width="3.0"/>
<polygon points="1310.6,1683.2 1324.2,1658.8 1297,1658.8" fill="#000" stroke="#000" stroke-width="3.0"/>
<polygon points="1374.5,1677.9 1388.1,1653.5 1360.9,1653.5" fill="#000" stroke="#000" stroke-width="3.0"/>
<polygon points="1428.7,1673.1 1442.3,1648.7 1415.1,1648.7" fill="#000" stroke="#000" stroke-width="3.0"/>
<polygon points="1470.2,1664.5 1483.8,1640.1 1456.7,1640.1" fill="#000" stroke="#000" stroke-width="3.0"/>
<polygon points="1502.2,1657.4 1515.8,1633 1488.6,1633" fill="#000" stroke="#000" stroke-width="3.0"/>
<polygon points="1550.1,1647.4 1563.7,1623 1536.5,1623" fill="#000" stroke="#000" stroke-width="3.0"/>
<polygon points="1598,1635.3 1611.6,1610.9 1584.4,1610.9" fill="#000" stroke="#000" stroke-width="3.0"/>
<polygon points="1629.9,1629.2 1643.5,1604.8 1616.3,1604.8" fill="#000" stroke="#000" stroke-width="3.0"/>
<polygon points="1661.8,1625 1675.4,1600.6 1648.2,1600.6" fill="#000" stroke="#000" stroke-width="3.0"/>
</g>
<g stroke="#000" stroke-width="6.8" stroke-linecap="round" fill="none">
<line x1="371.8" y1="2349.2" x2="493.2" y2="2337.4"/>
<line x1="530.8" y1="2330.3" x2="653.5" y2="2295.5"/>
<line x1="689.5" y1="2282.3" x2="814.2" y2="2225.8"/>
<line x1="848.2" y1="2208.2" x2="974.7" y2="2134.7"/>
<line x1="1007.3" y1="2114.4" x2="1134.9" y2="2030.1"/>
<line x1="1166.8" y1="2008.7" x2="1294.8" y2="1921"/>
<line x1="1326.6" y1="1899.6" x2="1358.4" y2="1878.8"/>
<line x1="1390.8" y1="1858.2" x2="1412.4" y2="1844.9"/>
<line x1="1442.3" y1="1821.3" x2="1456.7" y2="1807"/>
<line x1="1483.8" y1="1779.8" x2="1488.6" y2="1775"/>
<line x1="1515.9" y1="1748" x2="1536.4" y2="1727.8"/>
<line x1="1563.9" y1="1701.1" x2="1584.2" y2="1681.4"/>
<line x1="1612" y1="1655" x2="1615.8" y2="1651.5"/>
<line x1="1643.9" y1="1625.3" x2="1647.8" y2="1621.7"/>
</g>
<g stroke-linejoin="miter">
<rect x="341.8" y="2340.4" width="21.5" height="21.1" fill="#fff" stroke="#000" stroke-width="2.9"/>
<rect x="501.4" y="2325" width="21.5" height="21.1" fill="#fff" stroke="#000" stroke-width="2.9"/>
<rect x="661" y="2279.6" width="21.5" height="21.1" fill="#fff" stroke="#000" stroke-width="2.9"/>
<rect x="820.7" y="2207.3" width="21.5" height="21.1" fill="#fff" stroke="#000" stroke-width="2.9"/>
<rect x="980.3" y="2114.4" width="21.5" height="21.1" fill="#fff" stroke="#000" stroke-width="2.9"/>
<rect x="1140" y="2009" width="21.5" height="21.1" fill="#fff" stroke="#000" stroke-width="2.9"/>
<rect x="1299.6" y="1899.7" width="21.5" height="21.1" fill="#fff" stroke="#000" stroke-width="2.9"/>
<rect x="1363.5" y="1857.7" width="21.5" height="21.1" fill="#fff" stroke="#000" stroke-width="2.9"/>
<rect x="1417.8" y="1824.4" width="21.5" height="21.1" fill="#fff" stroke="#000" stroke-width="2.9"/>
<rect x="1459.3" y="1782.9" width="21.5" height="21.1" fill="#fff" stroke="#000" stroke-width="2.9"/>
<rect x="1491.2" y="1750.9" width="21.5" height="21.1" fill="#fff" stroke="#000" stroke-width="2.9"/>
<rect x="1539.1" y="1703.9" width="21.5" height="21.1" fill="#fff" stroke="#000" stroke-width="2.9"/>
<rect x="1587" y="1657.5" width="21.5" height="21.1" fill="#fff" stroke="#000" stroke-width="2.9"/>
<rect x="1619" y="1627.9" width="21.5" height="21.1" fill="#fff" stroke="#000" stroke-width="2.9"/>
<rect x="1650.9" y="1598" width="21.5" height="21.1" fill="#fff" stroke="#000" stroke-width="2.9"/>
</g>
<g stroke="#000" stroke-width="6.8" stroke-linecap="round" fill="none">
<line x1="371.9" y1="1871.6" x2="493.2" y2="1866.8" stroke-dasharray="20 31"/>
<line x1="531.5" y1="1864.3" x2="652.9" y2="1852.6" stroke-dasharray="20 31"/>
<line x1="691" y1="1847.9" x2="812.7" y2="1828.9" stroke-dasharray="20 31"/>
<line x1="850.5" y1="1822.3" x2="972.5" y2="1798.5" stroke-dasharray="20 31"/>
<line x1="1010.1" y1="1790.8" x2="1132.2" y2="1764.5" stroke-dasharray="20 31"/>
<line x1="1169.7" y1="1756.3" x2="1291.9" y2="1728.6" stroke-dasharray="20 31"/>
<line x1="1329.4" y1="1720.5" x2="1355.7" y2="1715.2" stroke-dasharray="20 31"/>
<line x1="1393.3" y1="1707.4" x2="1410" y2="1703.8" stroke-dasharray="20 31"/>
<line x1="1446.6" y1="1692.8" x2="1452.4" y2="1690.4" stroke-dasharray="20 31"/>
<line x1="1520.1" y1="1663.6" x2="1532.1" y2="1659" stroke-dasharray="20 31"/>
<line x1="1567.8" y1="1644.7" x2="1580.3" y2="1639.5" stroke-dasharray="20 31"/>
</g>
<g stroke-linejoin="miter">
<ellipse cx="352.7" cy="1872.6" rx="12.1" ry="12.4" fill="#fff" stroke="#000" stroke-width="3.0"/>
<ellipse cx="512.4" cy="1866.4" rx="12.1" ry="12.4" fill="#fff" stroke="#000" stroke-width="3.0"/>
<ellipse cx="672" cy="1851.1" rx="12.1" ry="12.4" fill="#fff" stroke="#000" stroke-width="3.0"/>
<ellipse cx="831.6" cy="1826.3" rx="12.1" ry="12.4" fill="#fff" stroke="#000" stroke-width="3.0"/>
<ellipse cx="991.3" cy="1795.1" rx="12.1" ry="12.4" fill="#fff" stroke="#000" stroke-width="3.0"/>
<ellipse cx="1151" cy="1760.8" rx="12.1" ry="12.4" fill="#fff" stroke="#000" stroke-width="3.0"/>
<ellipse cx="1310.6" cy="1724.7" rx="12.1" ry="12.4" fill="#fff" stroke="#000" stroke-width="3.0"/>
<ellipse cx="1374.5" cy="1711.6" rx="12.1" ry="12.4" fill="#fff" stroke="#000" stroke-width="3.0"/>
<ellipse cx="1428.7" cy="1700.2" rx="12.1" ry="12.4" fill="#fff" stroke="#000" stroke-width="3.0"/>
<ellipse cx="1470.2" cy="1683.6" rx="12.1" ry="12.4" fill="#fff" stroke="#000" stroke-width="3.0"/>
<ellipse cx="1502.2" cy="1670.7" rx="12.1" ry="12.4" fill="#fff" stroke="#000" stroke-width="3.0"/>
<ellipse cx="1550.1" cy="1652.5" rx="12.1" ry="12.4" fill="#fff" stroke="#000" stroke-width="3.0"/>
<ellipse cx="1598" cy="1632.3" rx="12.1" ry="12.4" fill="#fff" stroke="#000" stroke-width="3.0"/>
<ellipse cx="1629.9" cy="1618.5" rx="12.1" ry="12.4" fill="#fff" stroke="#000" stroke-width="3.0"/>
<ellipse cx="1661.8" cy="1608.9" rx="12.1" ry="12.4" fill="#fff" stroke="#000" stroke-width="3.0"/>
</g>
<g stroke="#000" stroke-width="6.8" stroke-linecap="round" fill="none">
<line x1="371.9" y1="1725.2" x2="493.2" y2="1723.5" stroke-dasharray="3 28"/>
<line x1="531.5" y1="1722.5" x2="652.8" y2="1718.1" stroke-dasharray="3 28"/>
<line x1="691.2" y1="1716.3" x2="812.5" y2="1709.5" stroke-dasharray="3 28"/>
<line x1="850.8" y1="1706.7" x2="972.2" y2="1695.9" stroke-dasharray="3 28"/>
<line x1="1010.4" y1="1692.7" x2="1131.8" y2="1683" stroke-dasharray="3 28"/>
<line x1="1170.1" y1="1679.7" x2="1291.5" y2="1668.6" stroke-dasharray="3 28"/>
<line x1="1329.7" y1="1665.2" x2="1355.3" y2="1663.1" stroke-dasharray="3 28"/>
<line x1="1393.6" y1="1659.8" x2="1409.6" y2="1658.4" stroke-dasharray="3 28"/>
<line x1="1447.5" y1="1652.8" x2="1451.4" y2="1652" stroke-dasharray="3 28"/>
<line x1="1521" y1="1637.1" x2="1531.3" y2="1634.9" stroke-dasharray="3 28"/>
<line x1="1568.7" y1="1626.3" x2="1579.4" y2="1623.6" stroke-dasharray="3 28"/>
</g>
<g stroke-linejoin="miter">
<polygon points="352.7,1709.1 366.3,1733.5 339.1,1733.5" fill="#fff" stroke="#000" stroke-width="3.0"/>
<polygon points="512.4,1706.8 526,1731.2 498.8,1731.2" fill="#fff" stroke="#000" stroke-width="3.0"/>
<polygon points="672,1701 685.6,1725.4 658.4,1725.4" fill="#fff" stroke="#000" stroke-width="3.0"/>
<polygon points="831.6,1692 845.2,1716.4 818,1716.4" fill="#fff" stroke="#000" stroke-width="3.0"/>
<polygon points="991.3,1677.8 1004.9,1702.2 977.7,1702.2" fill="#fff" stroke="#000" stroke-width="3.0"/>
<polygon points="1151,1665.1 1164.5,1689.5 1137.4,1689.5" fill="#fff" stroke="#000" stroke-width="3.0"/>
<polygon points="1310.6,1650.4 1324.2,1674.8 1297,1674.8" fill="#fff" stroke="#000" stroke-width="3.0"/>
<polygon points="1374.5,1645.1 1388.1,1669.5 1360.9,1669.5" fill="#fff" stroke="#000" stroke-width="3.0"/>
<polygon points="1428.7,1640.3 1442.3,1664.7 1415.1,1664.7" fill="#fff" stroke="#000" stroke-width="3.0"/>
<polygon points="1470.2,1631.7 1483.8,1656.1 1456.7,1656.1" fill="#fff" stroke="#000" stroke-width="3.0"/>
<polygon points="1502.2,1624.6 1515.8,1649 1488.6,1649" fill="#fff" stroke="#000" stroke-width="3.0"/>
<polygon points="1550.1,1614.6 1563.7,1639 1536.5,1639" fill="#fff" stroke="#000" stroke-width="3.0"/>
<polygon points="1598,1602.5 1611.6,1626.9 1584.4,1626.9" fill="#fff" stroke="#000" stroke-width="3.0"/>
<polygon points="1629.9,1596.4 1643.5,1620.8 1616.3,1620.8" fill="#fff" stroke="#000" stroke-width="3.0"/>
<polygon points="1661.8,1592.2 1675.4,1616.6 1648.2,1616.6" fill="#fff" stroke="#000" stroke-width="3.0"/>
</g>
<g stroke="#000" stroke-width="6.8" stroke-linecap="round" fill="none">
<line x1="371.9" y1="1648" x2="493.2" y2="1647.6" stroke-dasharray="27.1 17.1 3.5 17.1"/>
<line x1="531.5" y1="1647.3" x2="652.8" y2="1646.1" stroke-dasharray="27.1 17.1 3.5 17.1"/>
<line x1="691.2" y1="1645.6" x2="812.5" y2="1643.8" stroke-dasharray="27.1 17.1 3.5 17.1"/>
<line x1="850.8" y1="1643" x2="972.1" y2="1639.7" stroke-dasharray="27.1 17.1 3.5 17.1"/>
<line x1="1010.5" y1="1638.7" x2="1131.8" y2="1635.3" stroke-dasharray="27.1 17.1 3.5 17.1"/>
<line x1="1170.1" y1="1634.4" x2="1291.4" y2="1631.6" stroke-dasharray="27.1 17.1 3.5 17.1"/>
<line x1="1329.8" y1="1630.8" x2="1355.3" y2="1630.3" stroke-dasharray="27.1 17.1 3.5 17.1"/>
<line x1="1393.7" y1="1629.3" x2="1409.5" y2="1628.9" stroke-dasharray="27.1 17.1 3.5 17.1"/>
<line x1="1447.9" y1="1626.7" x2="1451.1" y2="1626.4" stroke-dasharray="27.1 17.1 3.5 17.1"/>
<line x1="1521.3" y1="1620.3" x2="1530.9" y2="1619.4" stroke-dasharray="27.1 17.1 3.5 17.1"/>
<line x1="1569.2" y1="1615.8" x2="1578.9" y2="1614.8" stroke-dasharray="27.1 17.1 3.5 17.1"/>
</g>
<g stroke-linejoin="miter">
<polygon points="352.7,1664.5 366.3,1640.1 339.1,1640.1" fill="#fff" stroke="#000" stroke-width="3.0"/>
<polygon points="512.4,1663.9 526,1639.5 498.8,1639.5" fill="#fff" stroke="#000" stroke-width="3.0"/>
<polygon points="672,1662.3 685.6,1637.9 658.4,1637.9" fill="#fff" stroke="#000" stroke-width="3.0"/>
<polygon points="831.6,1659.9 845.2,1635.5 818,1635.5" fill="#fff" stroke="#000" stroke-width="3.0"/>
<polygon points="991.3,1655.6 1004.9,1631.2 977.7,1631.2" fill="#fff" stroke="#000" stroke-width="3.0"/>
<polygon points="1151,1651.2 1164.5,1626.8 1137.4,1626.8" fill="#fff" stroke="#000" stroke-width="3.0"/>
<polygon points="1310.6,1647.6 1324.2,1623.2 1297,1623.2" fill="#fff" stroke="#000" stroke-width="3.0"/>
<polygon points="1374.5,1646.3 1388.1,1621.9 1360.9,1621.9" fill="#fff" stroke="#000" stroke-width="3.0"/>
<polygon points="1428.7,1644.7 1442.3,1620.3 1415.1,1620.3" fill="#fff" stroke="#000" stroke-width="3.0"/>
<polygon points="1470.2,1641.2 1483.8,1616.8 1456.7,1616.8" fill="#fff" stroke="#000" stroke-width="3.0"/>
<polygon points="1502.2,1638.3 1515.8,1613.9 1488.6,1613.9" fill="#fff" stroke="#000" stroke-width="3.0"/>
<polygon points="1550.1,1634.2 1563.7,1609.8 1536.5,1609.8" fill="#fff" stroke="#000" stroke-width="3.0"/>
<polygon points="1598,1629.2 1611.6,1604.8 1584.4,1604.8" fill="#fff" stroke="#000" stroke-width="3.0"/>
<polygon points="1629.9,1626.4 1643.5,1602 1616.3,1602" fill="#fff" stroke="#000" stroke-width="3.0"/>
<polygon points="1661.8,1625 1675.4,1600.6 1648.2,1600.6" fill="#fff" stroke="#000" stroke-width="3.0"/>
</g>
<line x1="1428.6" y1="1608.6" x2="1428.6" y2="2683.5" stroke="#000" stroke-width="3" stroke-dasharray="10.7 3.1 4 3.1" stroke-dashoffset="0"/>
</g>
<circle cx="1367.9" cy="2528.9" r="20.6" fill="#d2d2d2"/>
<circle cx="1474.3" cy="2528.9" r="7.9" fill="#000"/>
<g stroke="#000" fill="none" stroke-linecap="butt">
<line x1="318.4" y1="1608.6" x2="1664.8" y2="1608.6" stroke-width="4.9"/>
<line x1="318.4" y1="2687.5" x2="1664.8" y2="2687.5" stroke-width="4.9"/>
<line x1="320.9" y1="1608.6" x2="320.9" y2="2687.5" stroke-width="4.9"/>
<line x1="1662.3" y1="1608.6" x2="1662.3" y2="2687.5" stroke-width="4.9"/>
</g>
<text transform="translate(296.8 2697.3) scale(0.9750 1)" font-size="67.5" text-anchor="end">0.0</text>
<text transform="translate(296.8 2483.5) scale(0.9750 1)" font-size="67.5" text-anchor="end">0.2</text>
<text transform="translate(296.8 2269.7) scale(0.9750 1)" font-size="67.5" text-anchor="end">0.4</text>
<text transform="translate(296.8 2055.9) scale(0.9750 1)" font-size="67.5" text-anchor="end">0.6</text>
<text transform="translate(296.8 1842.1) scale(0.9750 1)" font-size="67.5" text-anchor="end">0.8</text>
<text transform="translate(296.8 1628.3) scale(0.9750 1)" font-size="67.5" text-anchor="end">1.0</text>
<text transform="translate(352.7 2761.3)" font-size="67" text-anchor="middle">0</text>
<text transform="translate(672 2761.3)" font-size="67" text-anchor="middle">10</text>
<text transform="translate(991.3 2761.3)" font-size="67" text-anchor="middle">20</text>
<text transform="translate(1310.6 2761.3)" font-size="67" text-anchor="middle">30</text>
<text transform="translate(1629.9 2761.3)" font-size="67" text-anchor="middle">40</text>
<text transform="translate(991.3 2873.8) scale(0.9780 1)" font-size="73" text-anchor="middle">Length (mm)</text>
<text transform="translate(188 2148.1) rotate(-90) scale(0.9780 1)" font-size="73" text-anchor="middle">Normalized water absorption</text>
<text transform="translate(65.3 1568.1)" font-size="92">(C)</text>
<text transform="translate(1471.4 2424.6) scale(1.0100 1)" font-size="56">Carbon</text>
<text transform="translate(1472.5 2492.5) scale(1.0100 1)" font-size="56">fiber</text>
<text transform="translate(1144.1 2618.6) scale(1.0100 1)" font-size="56">Glass fiber</text>
<rect x="1681.1" y="1605.6" width="622.6" height="663.7" fill="#fff" stroke="#000" stroke-width="2.6"/>
<g stroke="#000" stroke-width="6.8" stroke-linecap="round" fill="none">
<line x1="1691" y1="1651.4" x2="1748.5" y2="1651.4"/>
<line x1="1781" y1="1651.4" x2="1838.5" y2="1651.4"/>
</g>
<rect x="1753.8" y="1640.9" width="21.5" height="21.1" fill="#000" stroke="#000" stroke-width="2.9"/>
<text transform="translate(1855.1 1674.4) scale(1.0060 1)" font-size="66">HFRP<tspan dy="6.2">_</tspan><tspan dy="-6.2">30 days</tspan></text>
<g stroke="#000" stroke-width="6.8" stroke-linecap="round" fill="none">
<line x1="1691" y1="1733.3" x2="1748.5" y2="1733.3" stroke-dasharray="20 31"/>
<line x1="1781" y1="1733.3" x2="1838.5" y2="1733.3" stroke-dasharray="20 31"/>
</g>
<ellipse cx="1764.8" cy="1733.6" rx="12.1" ry="12.4" fill="#000" stroke="#000" stroke-width="3.0"/>
<text transform="translate(1855.1 1756.3) scale(1.0060 1)" font-size="66">HFRP<tspan dy="6.2">_</tspan><tspan dy="-6.2">70 days</tspan></text>
<g stroke="#000" stroke-width="6.8" stroke-linecap="round" fill="none">
<line x1="1691" y1="1815.2" x2="1748.5" y2="1815.2" stroke-dasharray="3 28"/>
<line x1="1781" y1="1815.2" x2="1838.5" y2="1815.2" stroke-dasharray="3 28"/>
</g>
<polygon points="1764.8,1798.8 1778.3,1823.2 1751.2,1823.2" fill="#000" stroke="#000" stroke-width="3.0"/>
<text transform="translate(1855.1 1838.2) scale(1.0060 1)" font-size="66">HFRP<tspan dy="6.2">_</tspan><tspan dy="-6.2">100 days</tspan></text>
<g stroke="#000" stroke-width="6.8" stroke-linecap="round" fill="none">
<line x1="1691" y1="1897.1" x2="1748.5" y2="1897.1" stroke-dasharray="27.1 17.1 3.5 17.1"/>
<line x1="1781" y1="1897.1" x2="1838.5" y2="1897.1" stroke-dasharray="27.1 17.1 3.5 17.1"/>
</g>
<polygon points="1764.8,1913.5 1778.3,1889.1 1751.2,1889.1" fill="#000" stroke="#000" stroke-width="3.0"/>
<text transform="translate(1855.1 1920.1) scale(1.0060 1)" font-size="66">HFRP<tspan dy="6.2">_</tspan><tspan dy="-6.2">140 days</tspan></text>
<g stroke="#000" stroke-width="6.8" stroke-linecap="round" fill="none">
<line x1="1691" y1="1979" x2="1748.5" y2="1979"/>
<line x1="1781" y1="1979" x2="1838.5" y2="1979"/>
</g>
<rect x="1753.8" y="1968.5" width="21.5" height="21.1" fill="#fff" stroke="#000" stroke-width="2.9"/>
<text transform="translate(1855.1 2002) scale(1.0060 1)" font-size="66">GFRP<tspan dy="6.2">_</tspan><tspan dy="-6.2">30 days</tspan></text>
<g stroke="#000" stroke-width="6.8" stroke-linecap="round" fill="none">
<line x1="1691" y1="2060.9" x2="1748.5" y2="2060.9" stroke-dasharray="20 31"/>
<line x1="1781" y1="2060.9" x2="1838.5" y2="2060.9" stroke-dasharray="20 31"/>
</g>
<ellipse cx="1764.8" cy="2061.2" rx="12.1" ry="12.4" fill="#fff" stroke="#000" stroke-width="3.0"/>
<text transform="translate(1855.1 2083.9) scale(1.0060 1)" font-size="66">GFRP<tspan dy="6.2">_</tspan><tspan dy="-6.2">70 days</tspan></text>
<g stroke="#000" stroke-width="6.8" stroke-linecap="round" fill="none">
<line x1="1691" y1="2142.8" x2="1748.5" y2="2142.8" stroke-dasharray="3 28"/>
<line x1="1781" y1="2142.8" x2="1838.5" y2="2142.8" stroke-dasharray="3 28"/>
</g>
<polygon points="1764.8,2126.4 1778.3,2150.8 1751.2,2150.8" fill="#fff" stroke="#000" stroke-width="3.0"/>
<text transform="translate(1855.1 2165.8) scale(1.0060 1)" font-size="66">GFRP<tspan dy="6.2">_</tspan><tspan dy="-6.2">100 days</tspan></text>
<g stroke="#000" stroke-width="6.8" stroke-linecap="round" fill="none">
<line x1="1691" y1="2224.7" x2="1748.5" y2="2224.7" stroke-dasharray="27.1 17.1 3.5 17.1"/>
<line x1="1781" y1="2224.7" x2="1838.5" y2="2224.7" stroke-dasharray="27.1 17.1 3.5 17.1"/>
</g>
<polygon points="1764.8,2241.1 1778.3,2216.7 1751.2,2216.7" fill="#fff" stroke="#000" stroke-width="3.0"/>
<text transform="translate(1855.1 2247.7) scale(1.0060 1)" font-size="66">GFRP<tspan dy="6.2">_</tspan><tspan dy="-6.2">140 days</tspan></text>
</svg>
</body>
</html>
